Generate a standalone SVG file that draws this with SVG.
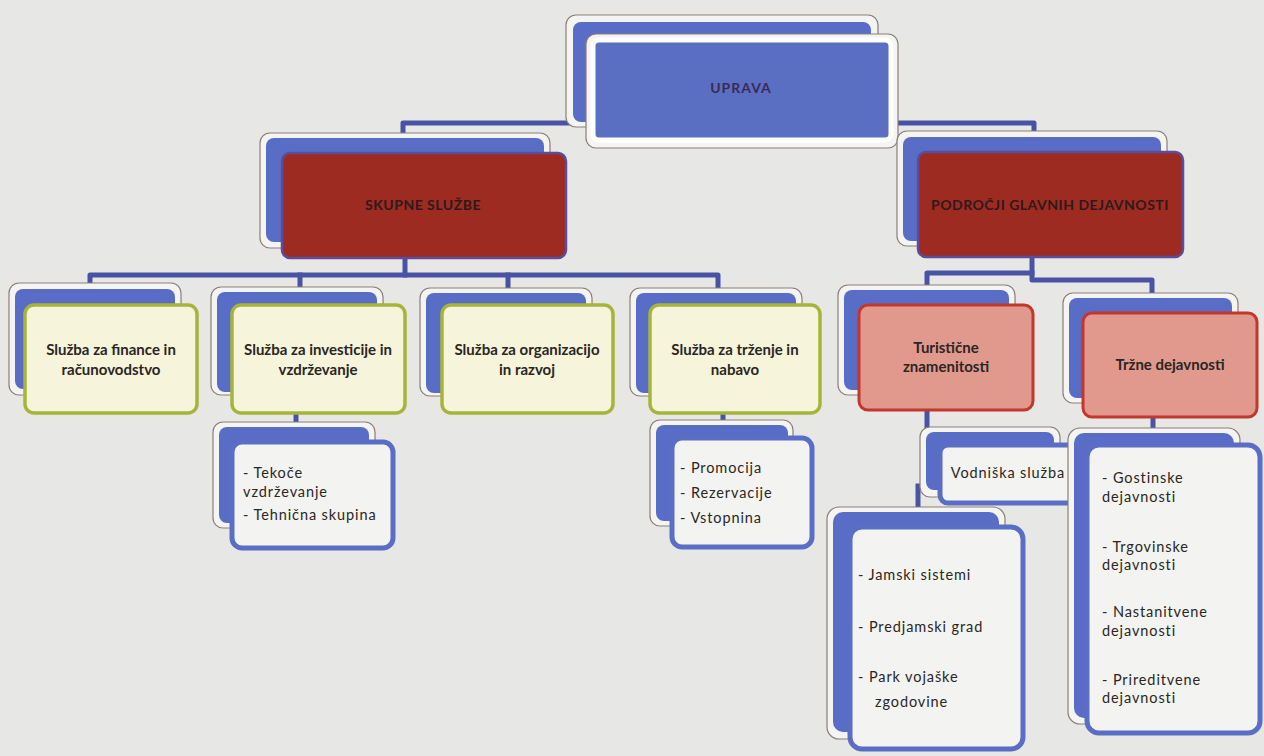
<svg xmlns="http://www.w3.org/2000/svg" width="1264" height="756" viewBox="0 0 1264 756">
<style>
.plate{fill:#f4f4f2;stroke:#8c7e76;stroke-width:1.2}
.back{fill:#5a6dc6}
.fblue{fill:#5b6fc2;stroke:#ffffff;stroke-width:5}
.fred{fill:#9d2b22;stroke:#5b4d9c;stroke-width:2.5}
.fyel{fill:#f6f4da;stroke:#a6b43a;stroke-width:3.5}
.fpink{fill:#e2998d;stroke:#c2382c;stroke-width:3}
.fsub{fill:#f3f3f1;stroke:#5a6ec6;stroke-width:5}
.hd{font-family:"Lato","Liberation Sans",sans-serif;font-weight:700;font-size:14px;text-anchor:middle}
.t{font-family:"Lato","Liberation Sans",sans-serif;font-weight:700;font-size:15px;fill:#2a2624;text-anchor:middle}
.s{font-family:"Lato","Liberation Sans",sans-serif;font-size:14.5px;fill:#2a2624;letter-spacing:0.9px}
.c{fill:none;stroke:#4853a6;stroke-width:5;stroke-linejoin:round;stroke-linecap:square}
</style>
<rect x="0" y="0" width="1264" height="756" fill="#e7e7e5"/>

<g id="connectors">
<path class="c" d="M573,123 H403 V134"/>
<path class="c" d="M895,123 H1034 V132"/>
<path class="c" d="M405,258 V275"/>
<path class="c" d="M90,288 V275 H718 V288"/>
<path class="c" d="M300,275 V288"/>
<path class="c" d="M508,275 V288"/>
<path class="c" d="M296,413 V423"/>
<path class="c" d="M723,413 V421"/>
<path class="c" d="M1032,257 V280 H1152 V294"/>
<path class="c" d="M1032,273 H927 V286"/>
<path class="c" d="M927,410 V428"/>
<path class="c" d="M918,486 V508"/>
<path class="c" d="M1153,417 V429"/>
</g>

<g id="uprava">
<rect class="plate" x="566" y="15" width="312" height="112" rx="10"/>
<rect class="back" x="573" y="22" width="298" height="100" rx="8"/>
<rect class="plate" x="586" y="34" width="312" height="114" rx="10"/>
<rect class="fblue" x="593" y="40" width="298" height="100" rx="6"/>
<text class="hd" x="741" y="93" fill="#3a2a58" letter-spacing="1">UPRAVA</text>
</g>

<g id="skupne">
<rect class="plate" x="260" y="133" width="290" height="115" rx="10"/>
<rect class="back" x="266" y="138" width="278" height="104" rx="8"/>
<rect class="fred" x="282" y="153" width="284" height="105" rx="8"/>
<text class="hd" x="423" y="210" fill="#2e1a1a" letter-spacing="0.5">SKUPNE SLUŽBE</text>
</g>

<g id="podrocji">
<rect class="plate" x="897" y="131" width="270" height="115" rx="10"/>
<rect class="back" x="903" y="137" width="258" height="104" rx="8"/>
<rect class="fred" x="918" y="152" width="265" height="105" rx="8"/>
<text class="hd" x="1050" y="210" fill="#2e1a1a" letter-spacing="0.5">PODROČJI GLAVNIH DEJAVNOSTI</text>
</g>

<g id="finance">
<rect class="plate" x="9" y="283" width="172" height="112" rx="10"/>
<rect class="back" x="15" y="289" width="160" height="100" rx="8"/>
<rect class="fyel" x="25" y="305" width="172" height="108" rx="9"/>
<text class="t" x="111" y="355">Služba za finance in</text>
<text class="t" x="111" y="375">računovodstvo</text>
</g>

<g id="investicije">
<rect class="plate" x="211" y="287" width="172" height="108" rx="10"/>
<rect class="back" x="217" y="292" width="160" height="100" rx="8"/>
<rect class="fyel" x="232" y="305" width="173" height="108" rx="9"/>
<text class="t" x="318" y="355">Služba za investicije in</text>
<text class="t" x="318" y="375">vzdrževanje</text>
</g>

<g id="organizacija">
<rect class="plate" x="420" y="288" width="172" height="108" rx="10"/>
<rect class="back" x="426" y="293" width="160" height="100" rx="8"/>
<rect class="fyel" x="442" y="305" width="171" height="108" rx="9"/>
<text class="t" x="527" y="355">Služba za organizacijo</text>
<text class="t" x="527" y="375">in razvoj</text>
</g>

<g id="trzenje">
<rect class="plate" x="630" y="288" width="172" height="108" rx="10"/>
<rect class="back" x="636" y="293" width="160" height="100" rx="8"/>
<rect class="fyel" x="650" y="305" width="170" height="108" rx="9"/>
<text class="t" x="735" y="355">Služba za trženje in</text>
<text class="t" x="735" y="375">nabavo</text>
</g>

<g id="turisticne">
<rect class="plate" x="838" y="285" width="177" height="110" rx="10"/>
<rect class="back" x="844" y="290" width="165" height="100" rx="8"/>
<rect class="fpink" x="859" y="305" width="174" height="105" rx="9"/>
<text class="t" x="946" y="353">Turistične</text>
<text class="t" x="946" y="372">znamenitosti</text>
</g>

<g id="trzne">
<rect class="plate" x="1063" y="293" width="175" height="110" rx="10"/>
<rect class="back" x="1069" y="298" width="163" height="100" rx="8"/>
<rect class="fpink" x="1083" y="313" width="174" height="104" rx="9"/>
<text class="t" x="1170" y="370">Tržne dejavnosti</text>
</g>

<g id="tekoce">
<rect class="plate" x="213" y="422" width="162" height="106" rx="10"/>
<rect class="back" x="219" y="427" width="150" height="96" rx="8"/>
<rect class="fsub" x="232" y="442" width="161" height="106" rx="10"/>
<text class="s" x="243" y="478">- Tekoče</text>
<text class="s" x="243" y="497">vzdrževanje</text>
<text class="s" x="243" y="520">- Tehnična skupina</text>
</g>

<g id="promocija">
<rect class="plate" x="650" y="420" width="143" height="106" rx="10"/>
<rect class="back" x="656" y="425" width="132" height="96" rx="8"/>
<rect class="fsub" x="672" y="438" width="140" height="109" rx="10"/>
<text class="s" x="680" y="473">- Promocija</text>
<text class="s" x="680" y="498">- Rezervacije</text>
<text class="s" x="680" y="523">- Vstopnina</text>
</g>

<g id="vodniska">
<rect class="plate" x="920" y="427" width="140" height="70" rx="10"/>
<rect class="back" x="926" y="432" width="128" height="58" rx="8"/>
<rect class="fsub" x="940" y="445" width="137" height="58" rx="8"/>
<text class="s" x="1008" y="478" text-anchor="middle" letter-spacing="0.3">Vodniška služba</text>
</g>

<g id="jamski">
<rect class="plate" x="827" y="507" width="178" height="232" rx="12"/>
<rect class="back" x="833" y="512" width="166" height="220" rx="10"/>
<rect class="fsub" x="850" y="527" width="173" height="222" rx="12"/>
<text class="s" x="858" y="580">- Jamski sistemi</text>
<text class="s" x="858" y="632">- Predjamski grad</text>
<text class="s" x="858" y="682">- Park vojaške</text>
<text class="s" x="875" y="707">zgodovine</text>
</g>

<g id="gostinske">
<rect class="plate" x="1068" y="428" width="172" height="296" rx="12"/>
<rect class="back" x="1074" y="433" width="160" height="285" rx="10"/>
<rect class="fsub" x="1087" y="445" width="173" height="288" rx="12"/>
<text class="s" x="1102" y="483">- Gostinske</text>
<text class="s" x="1102" y="502">dejavnosti</text>
<text class="s" x="1102" y="552">- Trgovinske</text>
<text class="s" x="1102" y="570">dejavnosti</text>
<text class="s" x="1102" y="617">- Nastanitvene</text>
<text class="s" x="1102" y="636">dejavnosti</text>
<text class="s" x="1102" y="685">- Prireditvene</text>
<text class="s" x="1102" y="703">dejavnosti</text>
</g>
</svg>
